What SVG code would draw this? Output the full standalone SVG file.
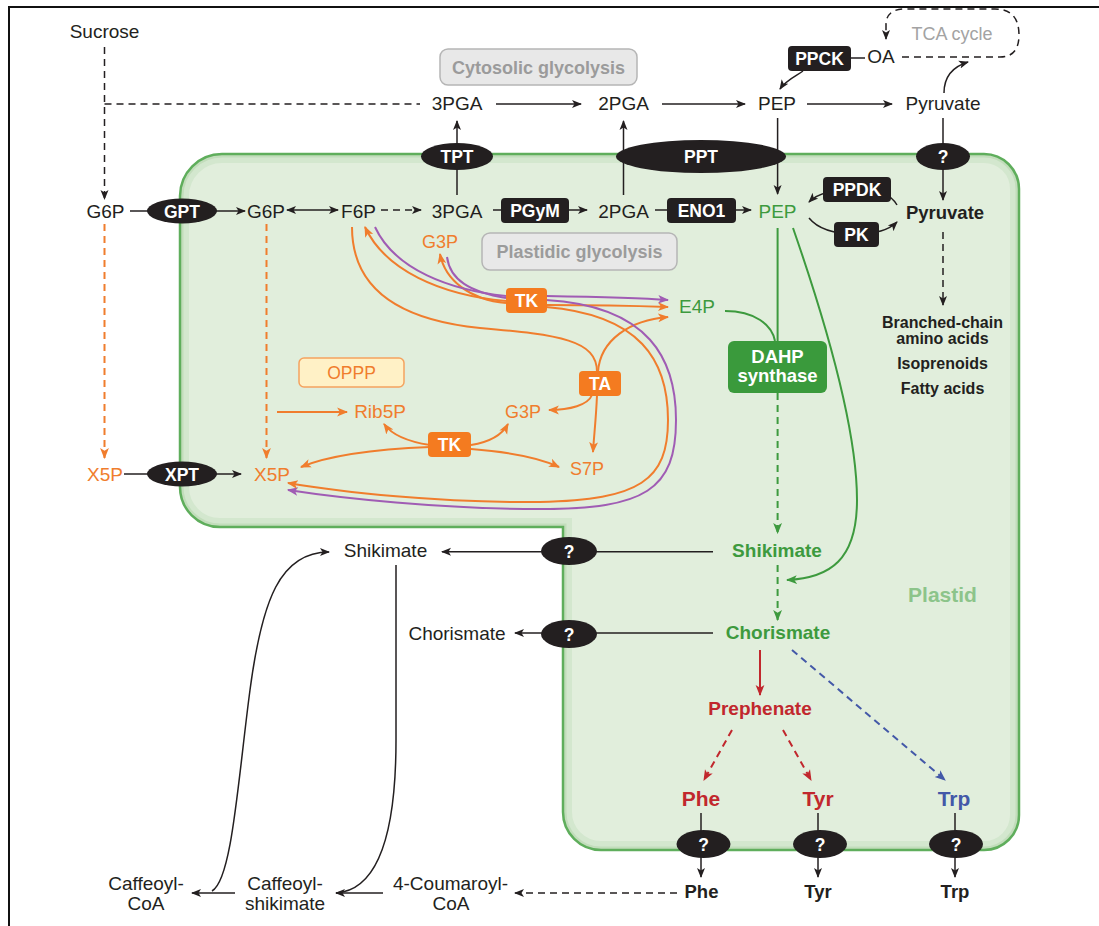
<svg xmlns="http://www.w3.org/2000/svg" xmlns:xlink="http://www.w3.org/1999/xlink" width="1099" height="926" viewBox="0 0 1099 926">
<style>
text{font-family:"Liberation Sans",Arial,sans-serif;text-anchor:middle;font-size:19px;fill:#231f20}
.b{font-weight:bold}
.en{font-weight:bold;font-size:17.5px;fill:#fff}
.o{fill:#f07d2d}
.gt{fill:#3d9a3e}
.r{fill:#c1272d;font-weight:bold}
.bl{fill:#4358a8;font-weight:bold}
.grey{fill:#9b9b9b;font-weight:bold;font-size:18px}
.k{fill:none;stroke:#231f20;stroke-width:1.5}
.ko{fill:none;stroke:#f07d2d;stroke-width:2}
.kp{fill:none;stroke:#a05cb4;stroke-width:2}
.kg{fill:none;stroke:#3d9a3e;stroke-width:2}
.kr{fill:none;stroke:#c1272d;stroke-width:2}
.kb{fill:none;stroke:#4358a8;stroke-width:2}
.d{stroke-dasharray:7,5}
.dk{fill:#231f20}
.ob{fill:#f47b20}
</style>
<defs>
<marker id="aK" viewBox="0 0 10 10" refX="9" refY="5" markerWidth="10" markerHeight="10" markerUnits="userSpaceOnUse" orient="auto-start-reverse"><path d="M0,1 L10,5 L0,9 L2.5,5z" fill="#231f20" stroke="none"/></marker>
<marker id="aO" viewBox="0 0 10 10" refX="9" refY="5" markerWidth="11" markerHeight="11" markerUnits="userSpaceOnUse" orient="auto-start-reverse"><path d="M0,1 L10,5 L0,9 L2.5,5z" fill="#f07d2d" stroke="none"/></marker>
<marker id="aP" viewBox="0 0 10 10" refX="9" refY="5" markerWidth="11" markerHeight="11" markerUnits="userSpaceOnUse" orient="auto-start-reverse"><path d="M0,1 L10,5 L0,9 L2.5,5z" fill="#a05cb4" stroke="none"/></marker>
<marker id="aG" viewBox="0 0 10 10" refX="9" refY="5" markerWidth="11" markerHeight="11" markerUnits="userSpaceOnUse" orient="auto-start-reverse"><path d="M0,1 L10,5 L0,9 L2.5,5z" fill="#3d9a3e" stroke="none"/></marker>
<marker id="aR" viewBox="0 0 10 10" refX="9" refY="5" markerWidth="11" markerHeight="11" markerUnits="userSpaceOnUse" orient="auto-start-reverse"><path d="M0,1 L10,5 L0,9 L2.5,5z" fill="#c1272d" stroke="none"/></marker>
<marker id="aB" viewBox="0 0 10 10" refX="9" refY="5" markerWidth="11" markerHeight="11" markerUnits="userSpaceOnUse" orient="auto-start-reverse"><path d="M0,1 L10,5 L0,9 L2.5,5z" fill="#4358a8" stroke="none"/></marker>
<path id="plastidShape" d="M222,154 H984 A35,35 0 0 1 1019,189 V815 A35,35 0 0 1 984,850 H601 A38,38 0 0 1 563,812 V527 H220 A40,40 0 0 1 180,487 V196 A42,42 0 0 1 222,154 Z"/>
<clipPath id="pc"><use xlink:href="#plastidShape"/></clipPath>
</defs>

<rect width="1099" height="926" fill="#fff"/>
<path d="M9,926 V7 H1099" fill="none" stroke="#111" stroke-width="2"/>

<g id="plastid">
<use xlink:href="#plastidShape" fill="#e1eedc"/>
<use xlink:href="#plastidShape" fill="none" stroke="#d3e7ce" stroke-width="18" clip-path="url(#pc)"/>
<use xlink:href="#plastidShape" fill="none" stroke="#c2ddbb" stroke-width="7" clip-path="url(#pc)"/>
<use xlink:href="#plastidShape" fill="none" stroke="#5fae5c" stroke-width="2.5"/>
<text x="942.5" y="602" class="b" style="fill:#8cc48a;font-size:21px">Plastid</text>
</g>

<g id="connectors">
<!-- black -->
<path class="k d" d="M104.5,47 V199" marker-end="url(#aK)"/>
<path class="k d" d="M104.5,104 H420"/>
<path class="k" d="M496,104 H581" marker-end="url(#aK)"/>
<path class="k" d="M662,104 H745" marker-end="url(#aK)"/>
<path class="k" d="M807,104 H892" marker-end="url(#aK)"/>
<path class="k" d="M457,195 V121" marker-end="url(#aK)"/>
<path class="k" d="M623.5,195 V121" marker-end="url(#aK)"/>
<path class="k" d="M777.6,118 V194" marker-end="url(#aK)"/>
<path class="k" d="M943,118 V200" marker-end="url(#aK)"/>
<path class="k d" d="M943,232 V305" marker-end="url(#aK)"/>
<path class="k" d="M130,211 H245" marker-end="url(#aK)"/>
<path class="k" d="M287,210 H338" marker-start="url(#aK)" marker-end="url(#aK)"/>
<path class="k d" d="M381,210 H421" marker-end="url(#aK)"/>
<path class="k" d="M493,210 H587" marker-end="url(#aK)"/>
<path class="k" d="M655,210 H751" marker-end="url(#aK)"/>
<path class="k" d="M851,58 H865"/>
<path class="k" d="M803,71 C796,76 786,80 780,89" marker-end="url(#aK)"/>
<path class="k d" d="M902,57 H1000 Q1019,57 1019,35 Q1019,9 995,9 H905 Q886,9 886,25 V39" marker-end="url(#aK)"/>
<path class="k" d="M944,93 C944,75 955,66 968,62" marker-end="url(#aK)"/>
<path class="k" d="M897,205 Q888,189 857,189 Q822,189 809,202" marker-end="url(#aK)"/>
<path class="k" d="M809,218 Q822,234 856,234 Q885,234 897,222" marker-end="url(#aK)"/>
<path class="k" d="M713,551.7 H442" marker-end="url(#aK)"/>
<path class="k" d="M713,633 H515" marker-end="url(#aK)"/>
<path class="k" d="M701,813 V877" marker-end="url(#aK)"/>
<path class="k" d="M818,813 V877" marker-end="url(#aK)"/>
<path class="k" d="M955,813 V877" marker-end="url(#aK)"/>
<path class="k d" d="M677,893 H515" marker-end="url(#aK)"/>
<path class="k" d="M383,893 H336" marker-end="url(#aK)"/>
<path class="k" d="M235,893 H192" marker-end="url(#aK)"/>
<path class="k" d="M212,891 C232,880 238,780 250,690 C262,600 280,552 329,552" marker-end="url(#aK)"/>
<path class="k" d="M396,565 L396,740 C396,830 380,890 336,893"/>
<path class="k" d="M124,474 H241" marker-end="url(#aK)"/>
<!-- orange -->
<path class="ko d" d="M104.5,224 V458" marker-end="url(#aO)"/>
<path class="ko d" d="M266.5,224 V458" marker-end="url(#aO)"/>
<path class="ko" d="M277,412 H347" marker-end="url(#aO)"/>
<path class="ko" d="M352,227 C352,290 400,320 480,328 C560,335 597,340 597,372"/>
<path class="ko" d="M506,301 C440,295 385,270 365,227" marker-end="url(#aO)"/>
<path class="ko" d="M506,303 C470,300 445,280 440,254" marker-end="url(#aO)"/>
<path class="ko" d="M546,305 C600,305 640,306 668,307" marker-end="url(#aO)"/>
<path class="ko" d="M598,372 C600,340 630,320 668,317" marker-end="url(#aO)"/>
<path class="ko" d="M592,395 C588,405 570,410 549,410" marker-end="url(#aO)"/>
<path class="ko" d="M597,395 C596,420 594,435 593,452" marker-end="url(#aO)"/>
<path class="ko" d="M430,445 C410,442 392,435 384,424" marker-end="url(#aO)"/>
<path class="ko" d="M471,445 C490,442 502,435 508,424" marker-end="url(#aO)"/>
<path class="ko" d="M430,447 C380,449 330,455 301,467" marker-end="url(#aO)"/>
<path class="ko" d="M471,449 C510,452 540,458 559,467" marker-end="url(#aO)"/>
<!-- purple -->
<path class="kp" d="M375,227 C395,270 450,290 506,296"/>
<path class="kp" d="M447,257 C450,280 470,292 506,298"/>
<path class="kp" d="M546,296 C600,297 640,298 668,300" marker-end="url(#aP)"/>
<path class="kp" d="M546,300 C650,306 676,360 676,420 C676,490 645,509 540,509 C440,509 340,498 288,490" marker-end="url(#aP)"/>
<path class="ko" d="M546,307 C640,315 668,360 668,420 C668,480 640,500 540,502 C440,503 340,492 288,483" marker-end="url(#aO)"/>
<!-- green -->
<path class="kg" d="M777.6,228 V341"/>
<path class="kg" d="M725,311 C755,311 772,325 775,341"/>
<path class="kg d" d="M777.6,393 V533" marker-end="url(#aG)"/>
<path class="kg d" d="M777.6,565 V620" marker-end="url(#aG)"/>
<path class="kg" d="M793,228 C825,320 857,430 857,500 C857,560 830,578 787,580" marker-end="url(#aG)"/>
<!-- red / blue -->
<path class="kr" d="M760,650 V695" marker-end="url(#aR)"/>
<path class="kr d" d="M732,730 L704,780" marker-end="url(#aR)"/>
<path class="kr d" d="M783,730 L811,780" marker-end="url(#aR)"/>
<path class="kb d" d="M792,650 L945,780" marker-end="url(#aB)"/>
</g>

<g id="labels-boxes">
<g id="cytosolic-glycolysis"><rect x="440" y="49" width="197" height="36" rx="8" fill="#e8e8e8" stroke="#b5b5b5" stroke-width="1.5"/><text x="538.5" y="73.5" class="grey">Cytosolic glycolysis</text></g>
<g id="plastidic-glycolysis"><rect x="482" y="233" width="195" height="37" rx="8" fill="#e8e8e8" stroke="#b5b5b5" stroke-width="1.5"/><text x="579.5" y="258" class="grey">Plastidic glycolysis</text></g>
<g id="oppp"><rect x="299" y="358" width="105" height="29" rx="5" fill="#fff1c6" stroke="#f5a35f" stroke-width="1.5"/><text x="351.5" y="379" class="o" style="font-size:17.5px">OPPP</text></g>
</g>

<g id="nodes">
<g id="sucrose"><text x="104.5" y="38">Sucrose</text></g>
<g id="pga3-cyt"><text x="457" y="110">3PGA</text></g>
<g id="pga2-cyt"><text x="623.5" y="110">2PGA</text></g>
<g id="pep-cyt"><text x="777" y="110">PEP</text></g>
<g id="pyr-cyt"><text x="943" y="110">Pyruvate</text></g>
<g id="oa"><text x="881" y="63">OA</text></g>
<g id="tca"><text x="952" y="40" style="fill:#a3a3a3;font-size:18px">TCA cycle</text></g>
<g id="g6p-cyt"><text x="105.5" y="218">G6P</text></g>
<g id="g6p-pl"><text x="266" y="218">G6P</text></g>
<g id="f6p"><text x="358.5" y="218">F6P</text></g>
<g id="pga3-pl"><text x="457" y="218">3PGA</text></g>
<g id="pga2-pl"><text x="623.5" y="218">2PGA</text></g>
<g id="pep-pl"><text x="777.5" y="218" class="gt">PEP</text></g>
<g id="pyr-pl"><text x="945" y="219" class="b" style="font-size:18.5px">Pyruvate</text></g>
<g id="g3p-top"><text x="440" y="248" class="o" style="font-size:18px">G3P</text></g>
<g id="e4p"><text x="697" y="313" class="gt">E4P</text></g>
<g id="products"><text x="942.5" y="328" class="b" style="font-size:16px">Branched-chain</text><text x="942.5" y="344" class="b" style="font-size:16px">amino acids</text><text x="942.5" y="369" class="b" style="font-size:16px">Isoprenoids</text><text x="942.5" y="394" class="b" style="font-size:16px">Fatty acids</text></g>
<g id="rib5p"><text x="380" y="418" class="o">Rib5P</text></g>
<g id="g3p-mid"><text x="523" y="418" class="o" style="font-size:18px">G3P</text></g>
<g id="s7p"><text x="587" y="475" class="o" style="font-size:18px">S7P</text></g>
<g id="x5p-cyt"><text x="105" y="481" class="o">X5P</text></g>
<g id="x5p-pl"><text x="272" y="481" class="o">X5P</text></g>
<g id="shik-pl"><text x="777" y="557" class="gt b">Shikimate</text></g>
<g id="shik-cyt"><text x="385.5" y="557">Shikimate</text></g>
<g id="chor-pl"><text x="778" y="639" class="gt b">Chorismate</text></g>
<g id="chor-cyt"><text x="457" y="640">Chorismate</text></g>
<g id="prephenate"><text x="760" y="715" class="r">Prephenate</text></g>
<g id="phe-pl"><text x="701" y="806" class="r" style="font-size:21px">Phe</text></g>
<g id="tyr-pl"><text x="818" y="806" class="r" style="font-size:21px">Tyr</text></g>
<g id="trp-pl"><text x="954" y="806" class="bl" style="font-size:21px">Trp</text></g>
<g id="phe-cyt"><text x="701.5" y="898" class="b" style="font-size:18.5px">Phe</text></g>
<g id="tyr-cyt"><text x="818" y="898" class="b" style="font-size:18.5px">Tyr</text></g>
<g id="trp-cyt"><text x="955" y="898" class="b" style="font-size:18.5px">Trp</text></g>
<g id="caffeoyl-coa"><text x="146" y="890">Caffeoyl-</text><text x="146" y="910">CoA</text></g>
<g id="caffeoyl-shikimate"><text x="285" y="890">Caffeoyl-</text><text x="285" y="910">shikimate</text></g>
<g id="coumaroyl-coa"><text x="450.5" y="890">4-Coumaroyl-</text><text x="451" y="910">CoA</text></g>

<!-- transporters -->
<g id="GPT"><ellipse cx="182" cy="211" rx="35" ry="12.5" class="dk"/><text x="182" y="217.5" class="en">GPT</text></g>
<g id="XPT"><ellipse cx="182" cy="474" rx="35" ry="12.5" class="dk"/><text x="182" y="480.5" class="en">XPT</text></g>
<g id="TPT"><ellipse cx="457" cy="156.5" rx="36" ry="13.5" class="dk"/><text x="457" y="163" class="en">TPT</text></g>
<g id="PPT"><ellipse cx="701" cy="156.5" rx="85" ry="16.5" class="dk"/><text x="701" y="163" class="en">PPT</text></g>
<g id="q-pyr"><ellipse cx="943" cy="156.5" rx="27" ry="13.5" class="dk"/><text x="943" y="163" class="en">?</text></g>
<g id="q-shik"><ellipse cx="569" cy="551" rx="28" ry="14" class="dk"/><text x="569" y="557.5" class="en">?</text></g>
<g id="q-chor"><ellipse cx="569" cy="634" rx="28" ry="14" class="dk"/><text x="569" y="640.5" class="en">?</text></g>
<g id="q-phe"><ellipse cx="703.5" cy="844" rx="27" ry="14" class="dk"/><text x="703.5" y="850.5" class="en">?</text></g>
<g id="q-tyr"><ellipse cx="820" cy="844" rx="27" ry="14" class="dk"/><text x="820" y="850.5" class="en">?</text></g>
<g id="q-trp"><ellipse cx="956" cy="844" rx="27" ry="14" class="dk"/><text x="956" y="850.5" class="en">?</text></g>

<!-- enzymes -->
<g id="PPCK"><rect x="788" y="46" width="63" height="25" rx="4" class="dk"/><text x="819.5" y="64.5" class="en">PPCK</text></g>
<g id="PGyM"><rect x="501" y="198" width="68" height="25" rx="4" class="dk"/><text x="535" y="216.5" class="en">PGyM</text></g>
<g id="ENO1"><rect x="667" y="198" width="69" height="25" rx="4" class="dk"/><text x="701.5" y="216.5" class="en">ENO1</text></g>
<g id="PPDK"><rect x="823" y="177" width="68" height="25" rx="4" class="dk"/><text x="857" y="195.5" class="en">PPDK</text></g>
<g id="PK"><rect x="834" y="222" width="45" height="25" rx="4" class="dk"/><text x="856.5" y="240.5" class="en">PK</text></g>
<g id="TK1"><rect x="506" y="288" width="41" height="25" rx="4" class="ob"/><text x="526.5" y="306.5" class="en">TK</text></g>
<g id="TA"><rect x="579" y="371" width="42" height="25" rx="4" class="ob"/><text x="600" y="389.5" class="en">TA</text></g>
<g id="TK2"><rect x="428" y="432" width="43" height="25" rx="4" class="ob"/><text x="449.5" y="450.5" class="en">TK</text></g>
<g id="DAHP"><rect x="728" y="341" width="99" height="52" rx="6" fill="#3a9a3c"/><text x="777.5" y="363" class="en" style="font-size:18.5px">DAHP</text><text x="777.5" y="382" class="en" style="font-size:18.5px">synthase</text></g>
</g>
</svg>
